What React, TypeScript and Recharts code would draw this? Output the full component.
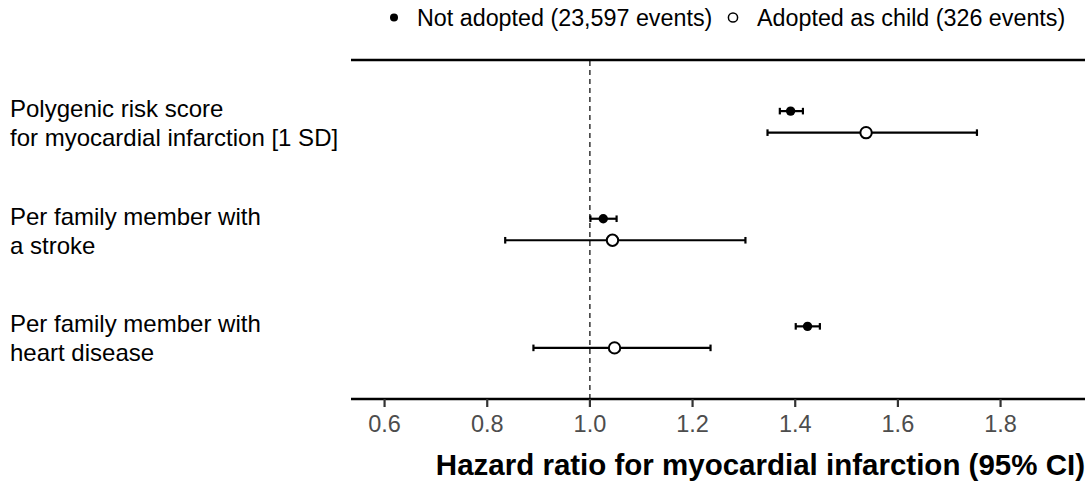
import {
  ScatterChart,
  Scatter,
  XAxis,
  YAxis,
  ErrorBar,
  ReferenceLine,
  Legend,
} from "recharts";

// rows, top to bottom
const ROW_LABELS: string[][] = [
  ["Polygenic risk score", "for myocardial infarction [1 SD]"],
  ["Per family member with", "a stroke"],
  ["Per family member with", "heart disease"],
];

// Not adopted (23,597 events)
const NOT_ADOPTED_HR = [1.391, 1.026, 1.424];
const NOT_ADOPTED_LO = [1.37, 1.001, 1.401];
const NOT_ADOPTED_HI = [1.415, 1.052, 1.448];

// Adopted as child (326 events)
const ADOPTED_HR = [1.538, 1.044, 1.048];
const ADOPTED_LO = [1.346, 0.835, 0.89];
const ADOPTED_HI = [1.754, 1.303, 1.235];

const X_TICKS = [0.6, 0.8, 1.0, 1.2, 1.4, 1.6, 1.8];
const X_DOMAIN: [number, number] = [0.5346, 1.9645];
const Y_DOMAIN: [number, number] = [-0.575, 2.575];

const LEGEND_NOT_ADOPTED = "Not adopted (23,597 events)";
const LEGEND_ADOPTED = "Adopted as child (326 events)";
const X_TITLE = "Hazard ratio for myocardial infarction (95% CI)";

const FONT = "'Liberation Sans', Arial, Helvetica, sans-serif";
const ROW_SHIFT = 0.1;
const LEGEND_H = 44;

const notAdopted = NOT_ADOPTED_HR.map((hr, i) => ({
  x: hr,
  y: i - ROW_SHIFT,
  err: [hr - NOT_ADOPTED_LO[i], NOT_ADOPTED_HI[i] - hr],
}));
const adopted = ADOPTED_HR.map((hr, i) => ({
  x: hr,
  y: i + ROW_SHIFT,
  err: [hr - ADOPTED_LO[i], ADOPTED_HI[i] - hr],
}));

function RowLabel(props: any) {
  const { y, payload } = props;
  const lines = ROW_LABELS[payload.value] || [];
  return (
    <text x={10} y={y - 5} fill="#000" fontSize={24} fontFamily={FONT} textAnchor="start">
      {lines.map((l, i) => (
        <tspan key={i} x={10} dy={i === 0 ? 0 : 29}>
          {l}
        </tspan>
      ))}
    </text>
  );
}

function LegendContent() {
  return (
    <svg width={1092} height={LEGEND_H} style={{ display: "block" }}>
      <circle cx={394} cy={17.5} r={4} fill="#000" />
      <text x={417} y={26} fontSize={23.3} fontFamily={FONT} fill="#000">
        {LEGEND_NOT_ADOPTED}
      </text>
      <circle cx={733} cy={17.5} r={4.6} fill="#fff" stroke="#000" strokeWidth={1.5} />
      <text x={757} y={26} fontSize={23.3} fontFamily={FONT} fill="#000">
        {LEGEND_ADOPTED}
      </text>
    </svg>
  );
}

function XTitle(props: any) {
  const { viewBox } = props;
  return (
    <text
      x={viewBox.x + viewBox.width}
      y={viewBox.y + 76}
      textAnchor="end"
      fontSize={29.5}
      fontWeight="bold"
      fontFamily={FONT}
      fill="#000"
    >
      {X_TITLE}
    </text>
  );
}

const filledDot = (p: any) => <circle cx={p.cx} cy={p.cy} r={4.7} fill="#000" />;
const openDot = (p: any) => (
  <circle cx={p.cx} cy={p.cy} r={5.7} fill="#fff" stroke="#000" strokeWidth={2} />
);

export default function App() {
  return (
    <div style={{ position: "absolute", left: 0, top: 0, background: "#fff" }}>
      <ScatterChart
        width={1092}
        height={482}
        margin={{ top: 60 - LEGEND_H, right: 7, bottom: 0, left: 0 }}
      >
        <XAxis
          type="number"
          dataKey="x"
          domain={X_DOMAIN}
          allowDataOverflow
          ticks={X_TICKS}
          tickFormatter={(v) => Number(v).toFixed(1)}
          height={83}
          axisLine={{ stroke: "#000", strokeWidth: 2.6 }}
          tickLine={{ stroke: "#333", strokeWidth: 2.2 }}
          tickSize={8}
          tickMargin={8}
          tick={{ fill: "#4d4d4d", fontSize: 23.5, fontFamily: FONT }}
          label={<XTitle />}
        />
        <YAxis
          type="number"
          dataKey="y"
          domain={Y_DOMAIN}
          allowDataOverflow
          reversed
          ticks={[0, 1, 2]}
          width={351}
          axisLine={false}
          tickLine={false}
          tick={<RowLabel />}
        />
        <Legend
          layout="vertical"
          verticalAlign="top"
          align="center"
          content={<LegendContent />}
          wrapperStyle={{ position: "absolute", left: 0, top: 0, width: 1092, height: LEGEND_H }}
        />
        <ReferenceLine y={Y_DOMAIN[0]} stroke="#000" strokeWidth={2.6} />
        <ReferenceLine x={1} stroke="#000" strokeWidth={1.2} strokeDasharray="5 4" />
        <Scatter data={notAdopted} shape={filledDot} isAnimationActive={false}>
          <ErrorBar dataKey="err" direction="x" width={3.3} stroke="#000" strokeWidth={2.2} />
        </Scatter>
        <Scatter data={adopted} shape={openDot} isAnimationActive={false}>
          <ErrorBar dataKey="err" direction="x" width={3.3} stroke="#000" strokeWidth={2.2} />
        </Scatter>
      </ScatterChart>
    </div>
  );
}
